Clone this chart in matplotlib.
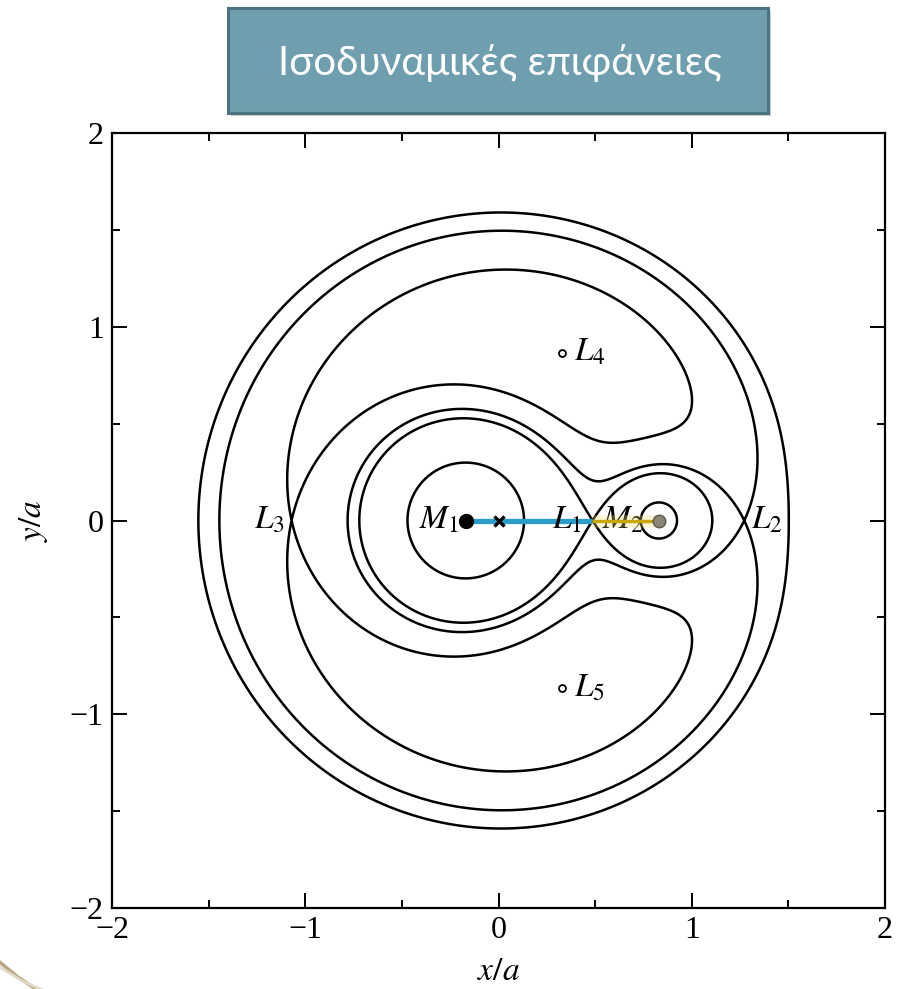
import numpy as np
import matplotlib
matplotlib.use("Agg")
import matplotlib.pyplot as plt
from matplotlib.patches import Rectangle
from matplotlib.lines import Line2D
from matplotlib.ticker import MultipleLocator

plt.rcParams["font.family"] = ["Liberation Serif", "DejaVu Serif"]
plt.rcParams["mathtext.fontset"] = "stix"

# binary with M2/(M1+M2) = MU, separation a = 1, centre of mass at origin
MU = 0.17
INNER_LEVEL = -3.0          # equipotential drawn around each star
TITLE = "Ισοδυναμικές επιφάνειες"
MASS_LABELS = ["$M_1$", "$M_2$"]
L_LABELS = ["$L_1$", "$L_2$", "$L_3$", "$L_4$", "$L_5$"]
TICKS = [-2, -1, 0, 1, 2]


def potential(x, y, mu=MU):
    r1 = np.hypot(x + mu, y)
    r2 = np.hypot(x - 1 + mu, y)
    with np.errstate(divide="ignore"):
        phi = -(1 - mu) / r1 - mu / r2 - 0.5 * (x ** 2 + y ** 2)
    return np.clip(phi, -20, None)


def collinear_point(lo, hi):
    # saddle on the x-axis = maximum of phi(x, 0) between lo and hi
    xs = np.linspace(lo, hi, 400001)[1:-1]
    return xs[np.argmax(potential(xs, 0.0))]


x1, x2 = -MU, 1 - MU
xL1 = collinear_point(x1, x2)
xL2 = collinear_point(x2, 2.0)
xL3 = collinear_point(-2.0, x1)
xL45 = 0.5 - MU
yL45 = np.sqrt(3) / 2

levels = sorted([potential(xL1, 0.0), potential(xL2, 0.0), potential(xL3, 0.0)])

grid = np.linspace(-2, 2, 1601)
X, Y = np.meshgrid(grid, grid)
Z = potential(X, Y)

fig = plt.figure(figsize=(8.98, 9.89), dpi=100)
ax = fig.add_axes([112 / 898, 1 - 908 / 989, 773 / 898, 775 / 989])

ax.contour(X, Y, Z, levels=levels, colors="k", linewidths=1.8, linestyles="solid")
inner = np.ma.masked_where(np.hypot(X, Y) > 1.3, Z)
ax.contour(X, Y, inner, levels=[INNER_LEVEL], colors="k", linewidths=1.8,
           linestyles="solid")

# highlighted segments M1 -> L1 -> M2
ax.plot([x1, xL1], [0, 0], color="#2a9dcb", lw=3.8, solid_capstyle="butt", zorder=3)
ax.plot([xL1, x2], [0, 0], color="#f3dc7a", lw=9, alpha=0.3, solid_capstyle="butt", zorder=3)
ax.plot([xL1, x2], [0, 0], color="#c9a600", lw=2.4, solid_capstyle="butt", zorder=4)

ax.plot(x1, 0, "o", color="k", ms=10, zorder=5)
ax.plot(x2, 0, "o", color="#8d8676", mec="#5d574a", mew=1, ms=9, zorder=5)
ax.plot(0, 0, "x", color="k", ms=7, mew=2.4, zorder=5)
ax.plot([xL45, xL45], [yL45, -yL45], "o", ls="none", mfc="white", mec="k",
        mew=1.3, ms=5, zorder=5)

fs = 24
ax.text(x1 - 0.035, 0.0, MASS_LABELS[0], fontsize=fs, ha="right", va="center")
ax.text(xL1 + 0.05, 0.0, MASS_LABELS[1], fontsize=fs, ha="left", va="center", zorder=2)
ax.text(xL1 - 0.055, 0.0, L_LABELS[0], fontsize=fs, ha="right", va="center")
ax.text(xL2 + 0.035, 0.0, L_LABELS[1], fontsize=fs, ha="left", va="center")
ax.text(xL3 - 0.035, 0.0, L_LABELS[2], fontsize=fs, ha="right", va="center")
ax.text(xL45 + 0.06, yL45, L_LABELS[3], fontsize=fs, ha="left", va="center")
ax.text(xL45 + 0.06, -yL45, L_LABELS[4], fontsize=fs, ha="left", va="center")

ax.set_xlim(-2, 2)
ax.set_ylim(-2, 2)
ax.set_xticks(TICKS)
ax.set_yticks(TICKS)
ax.xaxis.set_minor_locator(MultipleLocator(0.5))
ax.yaxis.set_minor_locator(MultipleLocator(0.5))
ax.tick_params(which="both", direction="in", top=True, right=True,
               width=1.4, labelsize=23, pad=6)
ax.tick_params(which="major", length=11)
ax.tick_params(which="minor", length=5.5)
for sp in ax.spines.values():
    sp.set_linewidth(1.6)
ax.set_xlabel("$x/a$", fontsize=24, labelpad=8)
ax.set_ylabel("$y/a$", fontsize=24, labelpad=14)

# title banner
shadow = Rectangle((231 / 898, 1 - 116 / 989), 540 / 898, 105 / 989,
                   transform=fig.transFigure, facecolor="#9aa7ab", alpha=0.5,
                   edgecolor="none", zorder=0)
box = Rectangle((228 / 898, 1 - 113 / 989), 540 / 898, 105 / 989,
                transform=fig.transFigure, facecolor="#6f9fae",
                edgecolor="#4d7380", lw=2.2, zorder=1)
fig.patches.extend([shadow, box])
fig.text(500 / 898, 1 - 63 / 989, TITLE, color="white", fontsize=29,
         family=["Lato", "DejaVu Sans"], ha="center", va="center", zorder=2)

# corner swoosh of the slide template
fig.lines.append(Line2D([0.0, 0.02, 0.04], [0.027, 0.012, 0.0],
                        transform=fig.transFigure, color="#bba985", lw=2.5))
fig.lines.append(Line2D([0.0, 0.025, 0.05], [0.022, 0.008, -0.002],
                        transform=fig.transFigure, color="#e2d9c6", lw=2))

fig.savefig("out.png", dpi=100)
